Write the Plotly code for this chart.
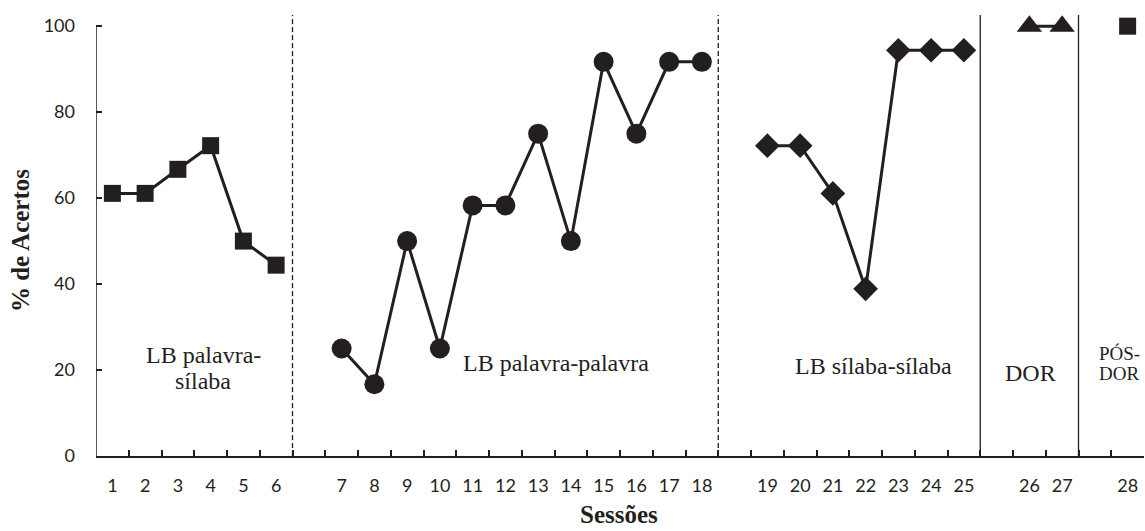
import plotly.graph_objects as go

# ---- data ----
phase_names = ["LB palavra-sílaba", "LB palavra-palavra", "LB sílaba-sílaba", "DOR", "PÓS-DOR"]
phase_sessions = [
    [1, 2, 3, 4, 5, 6],
    [7, 8, 9, 10, 11, 12, 13, 14, 15, 16, 17, 18],
    [19, 20, 21, 22, 23, 24, 25],
    [26, 27],
    [28],
]
phase_values = [
    [61.1, 61.1, 66.7, 72.2, 50.0, 44.4],
    [25.0, 16.7, 50.0, 25.0, 58.3, 58.3, 75.0, 50.0, 91.7, 75.0, 91.7, 91.7],
    [72.2, 72.2, 61.1, 38.9, 94.4, 94.4, 94.4],
    [100.0, 100.0],
    [100.0],
]
y_ticks = [0, 20, 40, 60, 80, 100]

# ---- styles ----
INK = "#231f20"
symbols = ["square", "circle", "diamond", "triangle-up", "square"]
msizes = [17, 20, 19, 22, 17]
boundary_dash = ["5px,3px", "5px,3px", "solid", "solid"]

fig = go.Figure()

# slot position = session number + phase index (one empty slot after each phase)
all_slots, all_labels, last_slots = [], [], []
for i, (sess, vals) in enumerate(zip(phase_sessions, phase_values)):
    slots = [s + i for s in sess]
    all_slots += slots
    all_labels += [str(s) for s in sess]
    last_slots.append(slots[-1])
    fig.add_trace(go.Scatter(
        x=slots, y=vals, mode="lines+markers",
        line=dict(color=INK, width=3),
        marker=dict(symbol=symbols[i], size=msizes[i], color=INK),
        cliponaxis=False, showlegend=False, hoverinfo="skip",
    ))

n_slots = all_slots[-1]
# invisible trace carrying the tick-label axis
fig.add_trace(go.Scatter(x=all_slots, y=[None] * len(all_slots), xaxis="x2",
                         showlegend=False, hoverinfo="skip", mode="markers"))

# phase boundary lines
for j, ls in enumerate(last_slots[:-1]):
    fig.add_shape(type="line", xref="x", yref="paper", x0=ls + 0.5, x1=ls + 0.5,
                  y0=0, y1=1, line=dict(color=INK, width=1.3, dash=boundary_dash[j]))

# y-axis line only up to 100
fig.add_shape(type="line", xref="x", yref="y", x0=0.5, x1=0.5, y0=0, y1=100,
              line=dict(color=INK, width=1.5))

# phase labels
serif = "Liberation Serif"
lab = [
    ("LB palavra-", 3.77, 355, 24),
    ("sílaba", 3.77, 381, 24),
    ("LB palavra-palavra", 14.56, 363, 24),
    ("LB sílaba-sílaba", 24.24, 366, 24),
    ("DOR", 29.02, 373, 24),
    ("PÓS-", 31.75, 354, 19),
    ("DOR", 31.75, 373, 19),
]
for t, x, py, fs in lab:
    fig.add_annotation(x=x, y=(456 - py) / 4.298, xref="x", yref="y", text=t,
                       showarrow=False, xanchor="center", yanchor="middle",
                       font=dict(family=serif, size=fs, color=INK))

fig.add_annotation(x=0.499, y=-0.132, xref="paper", yref="paper", text="<b>Sessões</b>",
                   showarrow=False, xanchor="center", yanchor="middle",
                   font=dict(family=serif, size=25, color=INK))
fig.add_annotation(x=-0.0725, y=0.4875, xref="paper", yref="paper", text="<b>% de Acertos</b>",
                   textangle=-90, showarrow=False, xanchor="center", yanchor="middle",
                   font=dict(family=serif, size=25, color=INK))

tickfont = dict(family="Lato", size=18, color=INK)
fig.update_layout(
    width=1145, height=531,
    margin=dict(l=96, r=1, t=15, b=75),
    plot_bgcolor="white", paper_bgcolor="white",
    xaxis=dict(range=[0.5, n_slots + 0.5], tickmode="array",
               tickvals=[k + 0.5 for k in range(0, n_slots + 1)],
               ticktext=[""] * (n_slots + 1),
               ticks="inside", ticklen=6, tickwidth=1.5, tickcolor=INK,
               showline=True, linecolor=INK, linewidth=2,
               showgrid=False, zeroline=False),
    xaxis2=dict(range=[0.5, n_slots + 0.5], overlaying="x", anchor="y", side="bottom",
                tickmode="array", tickvals=all_slots, ticktext=all_labels,
                ticks="", showline=False, showgrid=False, zeroline=False,
                tickfont=tickfont, ticklabelstandoff=17),
    yaxis=dict(range=[0, 102.6], tickmode="array", tickvals=y_ticks,
               ticks="inside", ticklen=6, tickwidth=1.5, tickcolor=INK,
               showline=False, showgrid=False, zeroline=False,
               tickfont=tickfont, ticklabelstandoff=20),
)

fig.write_html("out.html", config={"displayModeBar": False},
               post_script="document.body.style.margin='0';document.body.style.overflow='hidden';")
